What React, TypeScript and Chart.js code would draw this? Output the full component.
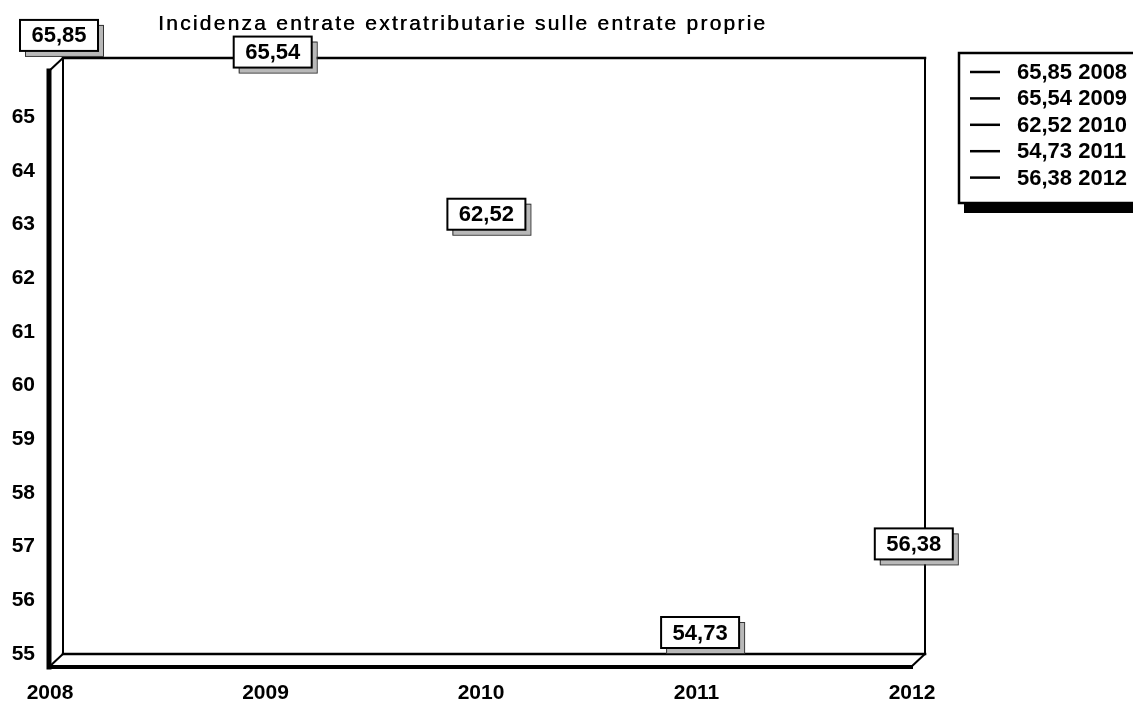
import React, { useEffect, useRef } from 'react';
import { Chart, registerables } from 'chart.js';

Chart.register(...registerables);

// ---- data ----
const years: string[] = ['2008', '2009', '2010', '2011', '2012'];
const values: number[] = [65.85, 65.54, 62.52, 54.73, 56.38];
const yTicks: number[] = [55, 56, 57, 58, 59, 60, 61, 62, 63, 64, 65];
const yMin = 55;
const yMax = 66.1;
const titleText = 'Incidenza entrate extratributarie sulle entrate proprie';

const FONT = "'Liberation Sans', Arial, Helvetica, sans-serif";
const fmt = (v: number) => v.toFixed(2).replace('.', ',');

const W = 1133;
const H = 707;

const bgPlugin = {
  id: 'bg',
  beforeDraw(chart: any) {
    const ctx = chart.ctx;
    ctx.save();
    ctx.fillStyle = '#ffffff';
    ctx.fillRect(0, 0, chart.width, chart.height);
    ctx.restore();
  },
};

const framePlugin = {
  id: 'frame3d',
  beforeDatasetsDraw(chart: any) {
    const { left: L, right: R, top: T, bottom: B } = chart.chartArea;
    const dx = 14;
    const dy = 13;
    const ctx = chart.ctx;
    ctx.save();
    ctx.strokeStyle = '#000';
    ctx.lineCap = 'square';
    const line = (x1: number, y1: number, x2: number, y2: number, w: number) => {
      ctx.lineWidth = w;
      ctx.beginPath();
      ctx.moveTo(x1, y1);
      ctx.lineTo(x2, y2);
      ctx.stroke();
    };
    // back wall
    line(L, T, R, T, 2.5);
    line(L, T, L, B, 2);
    line(R, T, R, B, 2);
    line(L, B, R, B, 2.5);
    // front edges
    line(L - dx, T + dy, L - dx, B + dy, 5);
    line(L - dx, B + dy, R - dx, B + dy, 4);
    // diagonals
    line(L - dx, T + dy, L, T, 2);
    line(L - dx, B + dy, L, B, 2);
    line(R - dx, B + dy, R, B, 2);
    ctx.restore();
  },
};

const labelPlugin = {
  id: 'valueBoxes',
  afterDatasetsDraw(chart: any) {
    const ctx = chart.ctx;
    ctx.save();
    chart.data.datasets.forEach((ds: any, d: number) => {
      const meta = chart.getDatasetMeta(d);
      const el = meta.data[d];
      if (!el) return;
      const cx = el.x - 4 - d * 1.8;
      const cy = el.y - 36;
      const bw = 78;
      const bh = 31;
      const x0 = cx - bw / 2;
      const y0 = cy - bh / 2;
      // shadow
      ctx.fillStyle = '#b8b8b8';
      ctx.fillRect(x0 + 5, y0 + 5, bw, bh);
      ctx.strokeStyle = '#333';
      ctx.lineWidth = 1;
      ctx.strokeRect(x0 + 5.5, y0 + 5.5, bw, bh);
      // box
      ctx.fillStyle = '#fff';
      ctx.fillRect(x0, y0, bw, bh);
      ctx.strokeStyle = '#000';
      ctx.lineWidth = 2;
      ctx.strokeRect(x0, y0, bw, bh);
      ctx.fillStyle = '#000';
      ctx.font = `bold 22px ${FONT}`;
      ctx.textAlign = 'center';
      ctx.textBaseline = 'middle';
      ctx.fillText(fmt(ds.data[d] as number), cx, cy + 1);
    });
    ctx.restore();
  },
};

const legendPlugin = {
  id: 'customLegend',
  afterDraw(chart: any) {
    const ctx = chart.ctx;
    ctx.save();
    const bx = 959;
    const by = 53;
    const bw = 200;
    const bh = 150;
    ctx.fillStyle = '#000';
    ctx.fillRect(bx + 5, by + bh, bw, 10);
    ctx.fillStyle = '#fff';
    ctx.fillRect(bx, by, bw, bh);
    ctx.strokeStyle = '#000';
    ctx.lineWidth = 2.5;
    ctx.strokeRect(bx, by, bw, bh);
    ctx.font = `bold 22px ${FONT}`;
    ctx.textAlign = 'left';
    ctx.textBaseline = 'middle';
    chart.data.datasets.forEach((ds: any, i: number) => {
      const y = 72 + i * 26.4;
      ctx.strokeStyle = ds.borderColor;
      ctx.lineWidth = 2.5;
      ctx.beginPath();
      ctx.moveTo(970, y);
      ctx.lineTo(1000, y);
      ctx.stroke();
      ctx.fillStyle = '#000';
      ctx.fillText(ds.label, 1017, y + 1);
    });
    ctx.restore();
  },
};

const titlePlugin = {
  id: 'spacedTitle',
  afterDraw(chart: any) {
    const ctx = chart.ctx as any;
    ctx.save();
    ctx.font = `21px ${FONT}`;
    ctx.fillStyle = '#000';
    ctx.textAlign = 'left';
    ctx.textBaseline = 'alphabetic';
    ctx.letterSpacing = '0px';
    const w0 = ctx.measureText(titleText).width;
    const target = 607;
    const ls = (target - w0) / (titleText.length - 1);
    ctx.letterSpacing = `${ls}px`;
    // slight double-strike to mimic the heavier print weight
    ctx.fillText(titleText, 158, 30);
    ctx.fillText(titleText, 158.5, 30);
    ctx.restore();
  },
};

export default function App() {
  const ref = useRef<HTMLCanvasElement | null>(null);

  useEffect(() => {
    if (!ref.current) return;
    const datasets = years.map((yr, i) => ({
      label: `${fmt(values[i])} ${yr}`,
      data: years.map((_, j) => (j === i ? values[i] : null)),
      borderColor: '#000000',
      backgroundColor: '#000000',
      showLine: false,
      pointRadius: 0,
      pointHoverRadius: 0,
    }));
    const chart = new Chart(ref.current, {
      type: 'line',
      data: { labels: years, datasets },
      options: {
        animation: false,
        responsive: false,
        devicePixelRatio: 1,
        events: [],
        layout: { padding: { left: 0, top: 58, right: 208, bottom: 0 } },
        plugins: {
          legend: { display: false },
          tooltip: { enabled: false },
          title: { display: false },
        },
        scales: {
          x: {
            type: 'category',
            offset: false,
            grid: { display: false, drawTicks: false },
            border: { display: false },
            ticks: {
              color: '#000',
              font: { family: FONT, size: 21, weight: 'bold' },
              padding: 27,
              labelOffset: -13,
              maxRotation: 0,
              autoSkip: false,
            },
            afterFit: (s: any) => {
              s.height = 53;
            },
          },
          y: {
            type: 'linear',
            min: yMin,
            max: yMax,
            grid: { display: false, drawTicks: false },
            border: { display: false },
            afterBuildTicks: (s: any) => {
              s.ticks = yTicks.map((v) => ({ value: v }));
            },
            ticks: {
              color: '#000',
              font: { family: FONT, size: 21, weight: 'bold' },
              padding: 28,
              callback: (v: any) => String(v),
            },
            afterFit: (s: any) => {
              s.width = 63;
            },
          },
        },
      },
      plugins: [bgPlugin, framePlugin, labelPlugin, legendPlugin, titlePlugin],
    } as any);
    return () => chart.destroy();
  }, []);

  return (
    <div style={{ position: 'fixed', left: 0, top: 0, width: W, height: H, background: '#fff', overflow: 'hidden' }}>
      <canvas ref={ref} width={W} height={H} style={{ display: 'block', width: W, height: H }} />
    </div>
  );
}
